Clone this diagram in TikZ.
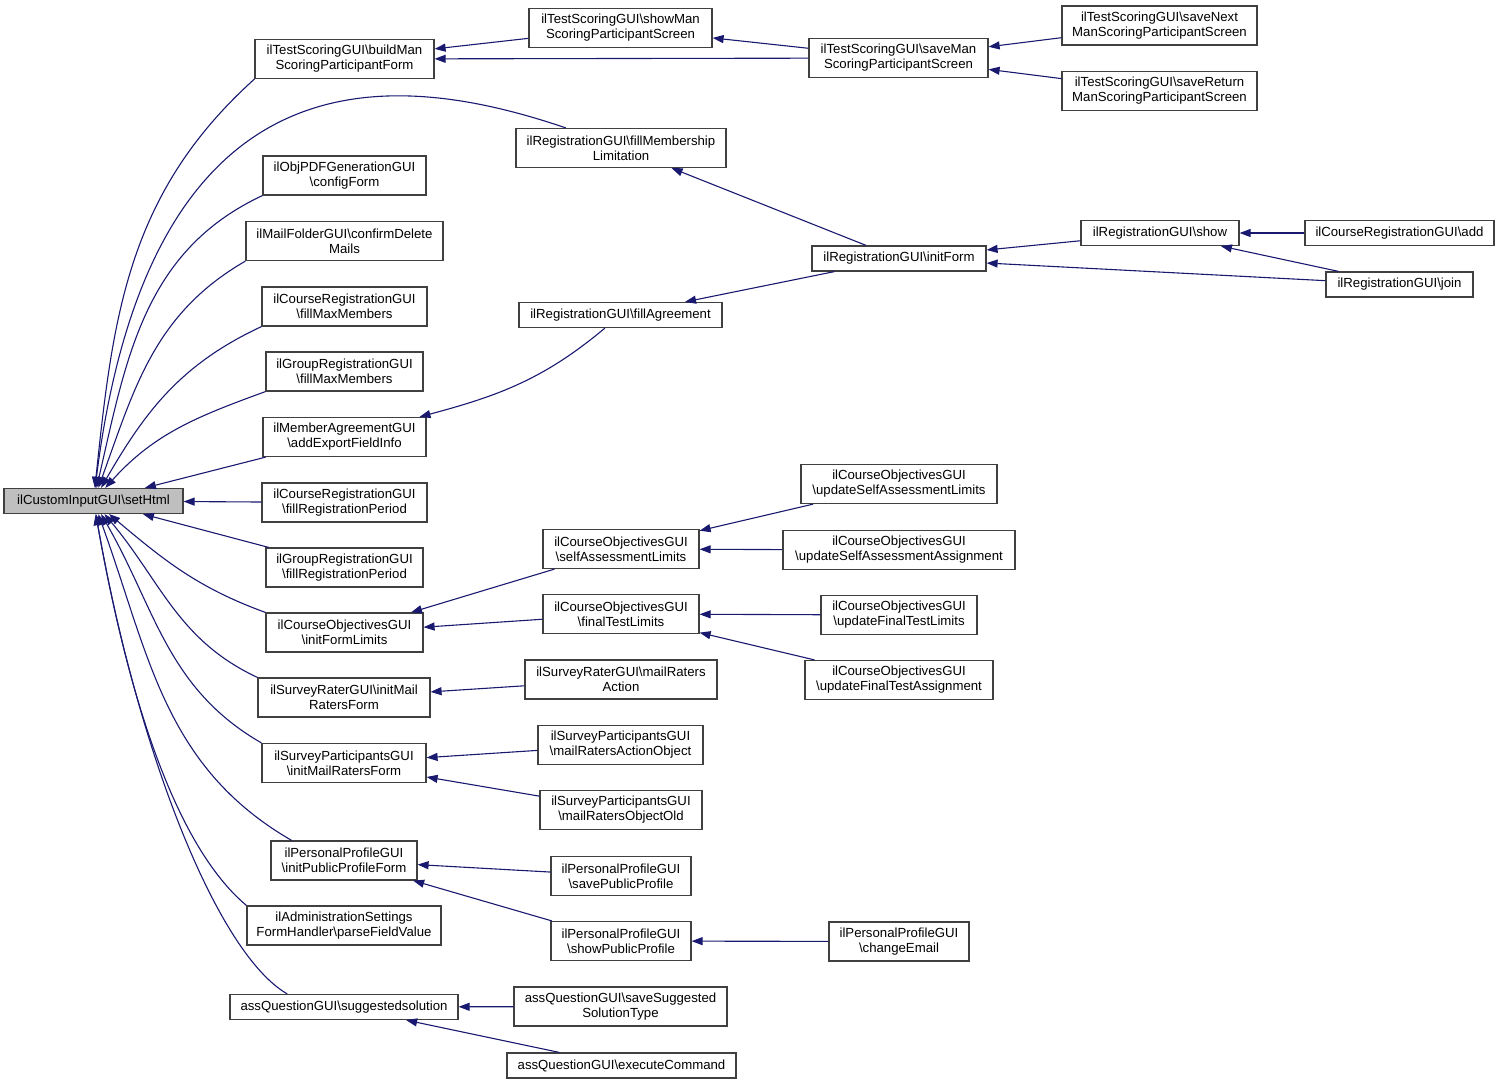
\documentclass[tikz,border=0pt]{standalone}
\usepackage{fontspec}
\setmainfont{Liberation Sans}
\usetikzlibrary{arrows.meta}
\definecolor{edgeblue}{HTML}{191970}
\newcommand{\bsl}{\textbackslash}

\begin{document}
\begin{tikzpicture}[
		x=1pt, y=-1pt,
		fn/.style = {rectangle, draw=black!75, fill=white, line width=1.2pt, align=center, inner sep=1pt, minimum height=39pt, font=\fontsize{13.2}{15}\selectfont},
		one/.style = {fn, minimum height=25pt},
		root/.style = {one, fill=black!25},
		call/.style = {-{Triangle[length=11pt, width=8pt]}, draw=edgeblue, line width=1.1pt}
		]
		\useasboundingbox (0,0) rectangle (1500,1085);
		
		%Nodes
		\node[root, minimum width=179pt]	(set)		at	(93.5, 501)		{ilCustomInputGUI\bsl setHtml};
		
		\node[fn, minimum width=179pt]	(build)		at	(344.5, 59)		{ilTestScoringGUI\bsl buildMan\\ScoringParticipantForm};
		\node[fn, minimum width=163pt]	(cfg)		at	(344.5, 175.5)	{ilObjPDFGenerationGUI\\\bsl configForm};
		\node[fn, minimum width=197pt]	(cdm)		at	(344.5, 241)	{ilMailFolderGUI\bsl confirmDelete\\Mails};
		\node[fn, minimum width=165pt]	(crmm)		at	(344.5, 306.5)	{ilCourseRegistrationGUI\\\bsl fillMaxMembers};
		\node[fn, minimum width=157pt]	(grmm)		at	(344.5, 371.5)	{ilGroupRegistrationGUI\\\bsl fillMaxMembers};
		\node[fn, minimum width=163pt]	(aef)		at	(344.5, 437)	{ilMemberAgreementGUI\\\bsl addExportFieldInfo};
		\node[fn, minimum width=165pt]	(crrp)		at	(344.5, 502.5)	{ilCourseRegistrationGUI\\\bsl fillRegistrationPeriod};
		\node[fn, minimum width=157pt]	(grrp)		at	(344.5, 567.5)	{ilGroupRegistrationGUI\\\bsl fillRegistrationPeriod};
		\node[fn, minimum width=157pt]	(ifl)		at	(344.5, 632.5)	{ilCourseObjectivesGUI\\\bsl initFormLimits};
		\node[fn, minimum width=172pt]	(srimr)		at	(344, 697.5)	{ilSurveyRaterGUI\bsl initMail\\RatersForm};
		\node[fn, minimum width=164pt]	(spimr)		at	(344, 763)		{ilSurveyParticipantsGUI\\\bsl initMailRatersForm};
		\node[fn, minimum width=146pt]	(ippf)		at	(344, 860.5)	{ilPersonalProfileGUI\\\bsl initPublicProfileForm};
		\node[fn, minimum width=194pt]	(pfv)		at	(344, 925.5)	{ilAdministrationSettings\\FormHandler\bsl parseFieldValue};
		\node[one, minimum width=228pt]	(sugg)		at	(344, 1007)		{assQuestionGUI\bsl suggestedsolution};
		
		\node[fn, minimum width=183pt]	(showman)	at	(620.5, 28)		{ilTestScoringGUI\bsl showMan\\ScoringParticipantScreen};
		\node[fn, minimum width=210pt]	(fml)		at	(621, 148)		{ilRegistrationGUI\bsl fillMembership\\Limitation};
		\node[one, minimum width=203pt]	(fa)		at	(620.5, 315)	{ilRegistrationGUI\bsl fillAgreement};
		\node[fn, minimum width=156pt]	(sal)		at	(621, 549)		{ilCourseObjectivesGUI\\\bsl selfAssessmentLimits};
		\node[fn, minimum width=156pt]	(ftl)		at	(621, 614)		{ilCourseObjectivesGUI\\\bsl finalTestLimits};
		\node[fn, minimum width=192pt]	(mra)		at	(621, 679.5)	{ilSurveyRaterGUI\bsl mailRaters\\Action};
		\node[fn, minimum width=165pt]	(mrao)		at	(620.5, 745)	{ilSurveyParticipantsGUI\\\bsl mailRatersActionObject};
		\node[fn, minimum width=162pt]	(mroo)		at	(621, 810)		{ilSurveyParticipantsGUI\\\bsl mailRatersObjectOld};
		\node[fn, minimum width=140pt]	(spp)		at	(621, 876)		{ilPersonalProfileGUI\\\bsl savePublicProfile};
		\node[fn, minimum width=140pt]	(shpp)		at	(621, 941)		{ilPersonalProfileGUI\\\bsl showPublicProfile};
		\node[fn, minimum width=213pt]	(sst)		at	(620.5, 1006.5)	{assQuestionGUI\bsl saveSuggested\\SolutionType};
		\node[one, minimum width=229pt]	(exc)		at	(621.5, 1065.5)	{assQuestionGUI\bsl executeCommand};
		
		\node[fn, minimum width=179pt]	(saveman)	at	(898.5, 58)		{ilTestScoringGUI\bsl saveMan\\ScoringParticipantScreen};
		\node[one, minimum width=174pt]	(initform)	at	(899, 258.5)	{ilRegistrationGUI\bsl initForm};
		\node[fn, minimum width=196pt]	(usal)		at	(899, 484)		{ilCourseObjectivesGUI\\\bsl updateSelfAssessmentLimits};
		\node[fn, minimum width=232pt]	(usaa)		at	(899, 550)		{ilCourseObjectivesGUI\\\bsl updateSelfAssessmentAssignment};
		\node[fn, minimum width=156pt]	(uftl)		at	(899, 615)		{ilCourseObjectivesGUI\\\bsl updateFinalTestLimits};
		\node[fn, minimum width=188pt]	(ufta)		at	(899, 680)		{ilCourseObjectivesGUI\\\bsl updateFinalTestAssignment};
		\node[fn, minimum width=140pt]	(chem)		at	(899, 941.5)	{ilPersonalProfileGUI\\\bsl changeEmail};
		
		\node[fn, minimum width=195pt]	(savenext)	at	(1159.5, 25.5)	{ilTestScoringGUI\bsl saveNext\\ManScoringParticipantScreen};
		\node[fn, minimum width=195pt]	(saveret)	at	(1159.5, 91)	{ilTestScoringGUI\bsl saveReturn\\ManScoringParticipantScreen};
		\node[one, minimum width=158pt]	(show)		at	(1160, 233)		{ilRegistrationGUI\bsl show};
		
		\node[one, minimum width=189pt]	(add)		at	(1399.5, 233)	{ilCourseRegistrationGUI\bsl add};
		\node[one, minimum width=147pt]	(join)		at	(1399.5, 284.5)	{ilRegistrationGUI\bsl join};
		
		%Lines
		\draw[call]	(build.south west)	to[out=222, in=84]	(set);
		\draw[call]	(fml.160)	.. controls (390, 68) and (150, 48) ..	(set);
		\draw[call]	(cfg.south west)	to[out=205, in=77]	(set);
		\draw[call]	(cdm.south west)	to[out=210, in=70]	(set);
		\draw[call]	(crmm.south west)	to[out=205, in=60]	(set);
		\draw[call]	(grmm.south west)	to[out=200, in=48]	(set);
		\draw[call]	(aef)	--	(set);
		\draw[call]	(crrp)	--	(set);
		\draw[call]	(grrp)	--	(set);
		\draw[call]	(ifl.north west)	to[out=160, in=-40]	(set);
		\draw[call]	(srimr.north west)	to[out=155, in=-50]	(set);
		\draw[call]	(spimr.north west)	to[out=150, in=-60]	(set);
		\draw[call]	(ippf.159)	to[out=150, in=-70]	(set);
		\draw[call]	(pfv.north west)	to[out=140, in=-80, out looseness=0.5, in looseness=1.3]	(set);
		\draw[call]	(sugg.167)	to[out=150, in=-80, out looseness=0.4, in looseness=1.2]	(set);
		
		\draw[call]	(showman)	--	(build);
		\draw[call]	(saveman)	--	(build);
		\draw[call]	(saveman)	--	(showman);
		\draw[call]	(savenext)	--	(saveman);
		\draw[call]	(saveret)	--	(saveman);
		\draw[call]	(initform)	--	(fml);
		\draw[call]	(initform)	--	(fa);
		\draw[call]	(fa)	to[out=220, in=15]	(aef);
		\draw[call]	(show)	--	(initform);
		\draw[call]	(join)	--	(initform);
		\draw[call]	(join)	--	(show);
		\draw[call]	(add)	--	(show);
		\draw[call]	(sal)	--	(ifl);
		\draw[call]	(ftl)	--	(ifl);
		\draw[call]	(usal)	--	(sal);
		\draw[call]	(usaa)	--	(sal);
		\draw[call]	(uftl)	--	(ftl);
		\draw[call]	(ufta)	--	(ftl);
		\draw[call]	(mra)	--	(srimr);
		\draw[call]	(mrao)	--	(spimr);
		\draw[call]	(mroo)	--	(spimr);
		\draw[call]	(spp)	--	(ippf);
		\draw[call]	(shpp)	--	(ippf);
		\draw[call]	(chem)	--	(shpp);
		\draw[call]	(sst)	--	(sugg);
		\draw[call]	(exc)	--	(sugg);
\end{tikzpicture}
\end{document}
